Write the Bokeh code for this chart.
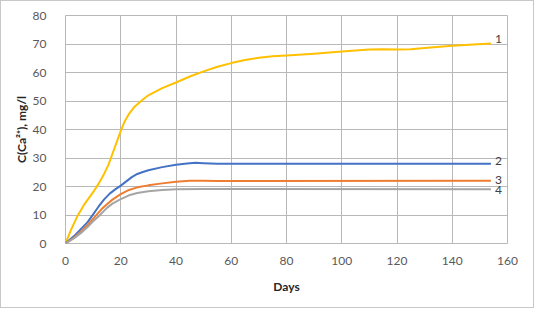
from bokeh.plotting import figure
from bokeh.layouts import column
from bokeh.embed import file_html
from bokeh.resources import INLINE
from bokeh.models import FixedTicker, Range1d
from bokeh.core.properties import value

# Data
days_1 = [0, 2, 4.3, 7, 10, 12, 14, 15.5, 17, 18.5, 20, 21.5, 23, 25, 28, 30, 35, 40, 45, 50,
          55, 60, 65, 70, 75, 80, 90, 100, 110, 115, 120, 125, 130, 140, 154]
conc_1 = [0, 4.8, 9.6, 14, 18, 21, 24.5, 27.5, 31.5, 35.5, 39.5, 43, 45.5, 48, 50.5, 52, 54.5, 56.5, 58.6, 60.4,
          62, 63.3, 64.4, 65.2, 65.7, 66, 66.6, 67.4, 68.1, 68.2, 68.1, 68.2, 68.6, 69.4, 70.2]

days_2 = [0, 3, 6, 8, 10, 12, 14, 16, 18, 20, 22, 24, 26, 28, 30, 35, 40, 44, 47, 50, 55, 60, 154]
conc_2 = [0, 2.5, 5.5, 7.5, 10.2, 13, 15.5, 17.5, 19, 20.3, 21.8, 23.3, 24.4, 25.1, 25.7, 26.8, 27.6, 28.1, 28.3, 28.2, 28, 28, 28]

days_3 = [0, 3, 6, 8, 11, 13, 15, 17, 20, 23, 26, 30, 35, 40, 45, 50, 55, 154]
conc_3 = [0, 2, 4.5, 6.5, 9.8, 12, 13.8, 15.4, 17.3, 18.8, 19.7, 20.4, 21.1, 21.7, 22, 22, 21.9, 22]

days_4 = [0, 3, 6, 8, 10, 12.3, 15, 17, 20, 23, 26, 30, 35, 40, 50, 154]
conc_4 = [0, 1.8, 4, 5.8, 7.8, 9.8, 12.5, 14, 15.6, 16.9, 17.7, 18.3, 18.8, 19, 19.1, 19]

series_labels = ["1", "2", "3", "4"]
colors = ["#FFC000", "#4472C4", "#ED7D31", "#A5A5A5"]
x_ticks = [0, 20, 40, 60, 80, 100, 120, 140, 160]
y_ticks = [0, 10, 20, 30, 40, 50, 60, 70, 80]

FONT = "Lato"
GRID = "#b8b8b8"

p = figure(width=532, height=306, output_backend="svg", toolbar_location=None,
           x_range=Range1d(0, 160), y_range=Range1d(0, 80),
           min_border_left=64, min_border_right=26, min_border_top=14, min_border_bottom=64)

p.outline_line_color = GRID
for ax in (p.xaxis[0], p.yaxis[0]):
    ax.axis_line_color = None
    ax.major_tick_line_color = None
    ax.minor_tick_line_color = None
    ax.major_label_text_font = FONT
    ax.major_label_text_font_size = "12px"
    ax.major_label_text_color = "#595959"
    ax.axis_label_text_font = FONT
    ax.axis_label_text_font_size = "12px"
    ax.axis_label_text_font_style = "bold"
    ax.axis_label_text_color = "#262626"

p.xaxis[0].ticker = FixedTicker(ticks=x_ticks)
p.yaxis[0].ticker = FixedTicker(ticks=y_ticks)
p.xaxis[0].axis_label = "Days"
p.yaxis[0].axis_label = "C(Ca²⁺), mg/l"
p.xaxis[0].major_label_standoff = 7
p.xaxis[0].axis_label_standoff = 11
p.yaxis[0].major_label_standoff = 13
p.yaxis[0].axis_label_standoff = 1

p.xgrid.grid_line_color = GRID
p.ygrid.grid_line_color = GRID

all_x = [days_1, days_2, days_3, days_4]
all_y = [conc_1, conc_2, conc_3, conc_4]
for xs, ys, c in zip(all_x, all_y, colors):
    p.line(xs, ys, line_color=c, line_width=2, line_join="round")

label_x = [xs[-1] for xs in all_x]
label_y = [ys[-1] for ys in all_y]
offsets_y = [4, 3, 1, -1]
p.text(x=label_x, y=label_y, text=series_labels, x_offset=4,
       y_offset=[-o for o in offsets_y],
       text_font=value(FONT), text_font_size="12px", text_color="#404040",
       text_baseline="middle", text_align="left")

layout = column(p, styles={"border": "1px solid #c8c8c8"})

open("out.html", "w").write(file_html(layout, INLINE))
